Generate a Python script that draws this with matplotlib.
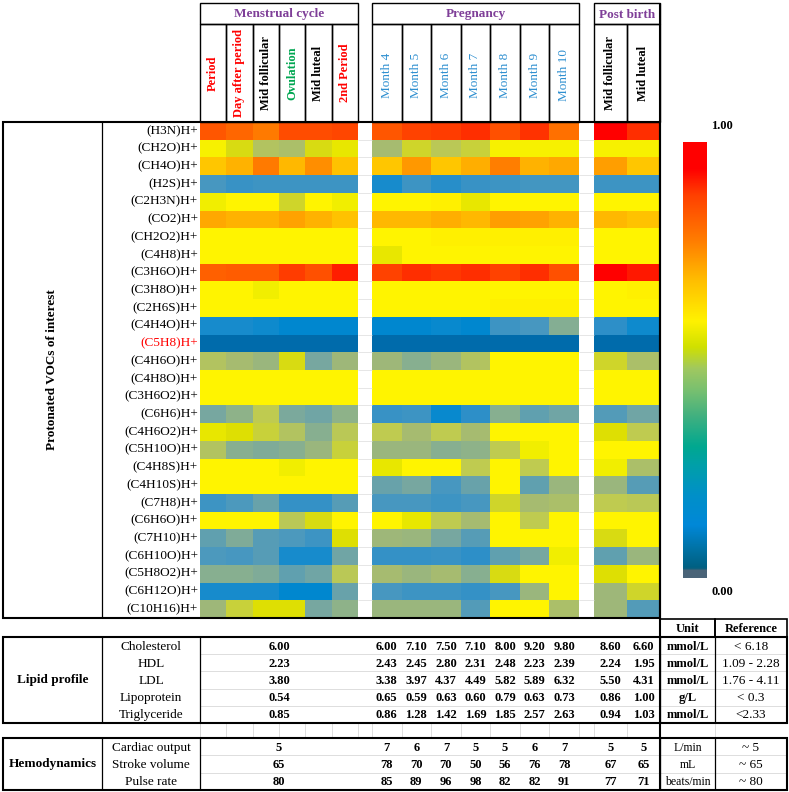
import numpy as np
import matplotlib
matplotlib.use('Agg')
import matplotlib.pyplot as plt
from matplotlib.colors import LinearSegmentedColormap
from matplotlib.patches import Rectangle

# --- Data ---
groups = ['Menstrual cycle', 'Pregnancy', 'Post birth']
menstrual_cols = ['Period', 'Day after period', 'Mid follicular', 'Ovulation', 'Mid luteal', '2nd Period']
menstrual_colors = ['#ff0000', '#ff0000', 'black', '#00a651', 'black', '#ff0000']
pregnancy_cols = ['Month 4', 'Month 5', 'Month 6', 'Month 7', 'Month 8', 'Month 9', 'Month 10']
post_cols = ['Mid follicular', 'Mid luteal']

compounds = ['(H3N)H+', '(CH2O)H+', '(CH4O)H+', '(H2S)H+', '(C2H3N)H+', '(CO2)H+',
             '(CH2O2)H+', '(C4H8)H+', '(C3H6O)H+', '(C3H8O)H+', '(C2H6S)H+', '(C4H4O)H+',
             '(C5H8)H+', '(C4H6O)H+', '(C4H8O)H+', '(C3H6O2)H+', '(C6H6)H+', '(C4H6O2)H+',
             '(C5H10O)H+', '(C4H8S)H+', '(C4H10S)H+', '(C7H8)H+', '(C6H6O)H+', '(C7H10)H+',
             '(C6H10O)H+', '(C5H8O2)H+', '(C6H12O)H+', '(C10H16)H+']

menstrual_vals = [
    [.83, .80, .76, .85, .85, .86],
    [.51, .47, .42, .41, .47, .49],
    [.61, .65, .76, .64, .72, .62],
    [.19, .16, .17, .17, .17, .17],
    [.50, .52, .52, .46, .52, .50],
    [.67, .65, .65, .68, .65, .62],
    [.52, .52, .52, .52, .52, .52],
    [.52, .52, .52, .52, .52, .52],
    [.81, .82, .82, .88, .84, .94],
    [.52, .52, .50, .52, .52, .52],
    [.52, .52, .52, .52, .52, .52],
    [.11, .11, .10, .08, .08, .08],
    [.01, .01, .01, .01, .01, .01],
    [.42, .40, .38, .47, .31, .39],
    [.52, .52, .52, .52, .52, .52],
    [.52, .52, .52, .52, .52, .52],
    [.31, .36, .44, .32, .29, .36],
    [.49, .48, .45, .42, .35, .43],
    [.42, .35, .33, .35, .38, .45],
    [.52, .52, .52, .50, .52, .52],
    [.52, .52, .52, .52, .52, .52],
    [.17, .20, .27, .15, .15, .23],
    [.52, .52, .52, .43, .47, .52],
    [.25, .33, .23, .20, .17, .48],
    [.20, .19, .23, .11, .11, .29],
    [.35, .35, .33, .25, .29, .43],
    [.11, .11, .11, .08, .08, .27],
    [.39, .45, .48, .48, .31, .36],
]

pregnancy_vals = [
    [.83, .87, .88, .91, .84, .90, .78],
    [.40, .46, .43, .45, .51, .51, .51],
    [.61, .70, .61, .66, .75, .65, .67],
    [.11, .17, .13, .16, .17, .18, .18],
    [.52, .52, .53, .49, .52, .52, .52],
    [.64, .64, .66, .64, .69, .68, .65],
    [.52, .52, .53, .53, .53, .53, .53],
    [.49, .52, .52, .52, .52, .52, .52],
    [.87, .91, .89, .91, .87, .91, .84],
    [.52, .52, .52, .52, .52, .52, .52],
    [.52, .52, .52, .52, .53, .53, .53],
    [.08, .08, .09, .08, .17, .19, .34],
    [.01, .01, .01, .01, .01, .01, .01],
    [.39, .35, .38, .42, .52, .52, .52],
    [.52, .52, .52, .52, .52, .52, .52],
    [.52, .52, .52, .52, .52, .52, .52],
    [.16, .17, .09, .14, .35, .25, .29],
    [.44, .40, .44, .40, .52, .52, .52],
    [.38, .38, .35, .36, .44, .50, .52],
    [.49, .52, .52, .44, .52, .44, .52],
    [.27, .31, .19, .27, .52, .25, .38],
    [.19, .19, .17, .19, .46, .40, .41],
    [.52, .49, .44, .40, .52, .44, .52],
    [.39, .38, .31, .23, .52, .52, .52],
    [.15, .15, .16, .14, .25, .31, .50],
    [.40, .38, .40, .35, .47, .52, .52],
    [.19, .17, .17, .15, .19, .38, .52],
    [.38, .38, .38, .22, .52, .52, .41],
]

post_vals = [
    [1.0, .91], [.51, .51], [.69, .61], [.17, .17], [.52, .52], [.64, .62],
    [.52, .52], [.52, .52], [1.0, .95], [.52, .53], [.52, .52], [.14, .10],
    [.01, .01], [.46, .41], [.52, .52], [.52, .52], [.22, .29], [.48, .44],
    [.52, .52], [.50, .41], [.38, .23], [.44, .43], [.52, .52], [.47, .52],
    [.25, .38], [.48, .52], [.39, .46], [.39, .22],
]

lipid_names = ['Cholesterol', 'HDL', 'LDL', 'Lipoprotein', 'Triglyceride']
lipid_menstrual = [6.00, 2.23, 3.80, 0.54, 0.85]
lipid_pregnancy = [
    [6.00, 7.10, 7.50, 7.10, 8.00, 9.20, 9.80],
    [2.43, 2.45, 2.80, 2.31, 2.48, 2.23, 2.39],
    [3.38, 3.97, 4.37, 4.49, 5.82, 5.89, 6.32],
    [0.65, 0.59, 0.63, 0.60, 0.79, 0.63, 0.73],
    [0.86, 1.28, 1.42, 1.69, 1.85, 2.57, 2.63],
]
lipid_post = [[8.60, 6.60], [2.24, 1.95], [5.50, 4.31], [0.86, 1.00], [0.94, 1.03]]
lipid_units = ['mmol/L', 'mmol/L', 'mmol/L', 'g/L', 'mmol/L']
lipid_refs = ['< 6.18', '1.09 - 2.28', '1.76 - 4.11', '< 0.3', '<2.33']

hemo_names = ['Cardiac output', 'Stroke volume', 'Pulse rate']
hemo_menstrual = [5, 65, 80]
hemo_pregnancy = [
    [7, 6, 7, 5, 5, 6, 7],
    [78, 70, 70, 50, 56, 76, 78],
    [85, 89, 96, 98, 82, 82, 91],
]
hemo_post = [[5, 5], [67, 65], [77, 71]]
hemo_units = ['L/min', 'mL', 'beats/min']
hemo_refs = ['~ 5', '~ 65', '~ 80']

# --- Colour maps ---
cell_cmap = LinearSegmentedColormap.from_list('cells', [
    (0.00, '#0068a8'), (0.08, '#0088d0'), (0.14, '#3090c8'), (0.19, '#4898c0'),
    (0.25, '#60a0b0'), (0.31, '#78a8a0'), (0.35, '#88b090'), (0.39, '#a0b878'),
    (0.44, '#c0cc50'), (0.48, '#e0e000'), (0.50, '#f0ee00'), (0.52, '#fff500'),
    (1.00, '#ff0000')])
bar_cmap = LinearSegmentedColormap.from_list('bar', [
    (0.00, '#4a6478'), (0.018, '#4a6478'), (0.02, '#005f80'), (0.06, '#0070a0'),
    (0.12, '#0088d8'), (0.19, '#0090c8'), (0.26, '#00a0a8'), (0.30, '#00a890'),
    (0.37, '#40b080'), (0.43, '#78c070'), (0.48, '#a0c860'), (0.53, '#d0e000'),
    (0.59, '#fff200'), (0.68, '#ffc000'), (0.77, '#ff8000'), (0.88, '#ff4000'),
    (0.94, '#ff0000'), (1.00, '#ff0000')])

# --- Layout (pixel coordinates, y downwards) ---
W, H = 789, 792
LEFT, DIV, HM_X0 = 3, 102, 200
spans = [(200, 358), (372, 579), (594, 660)]
HDR_TOP, HDR_MID, HM_TOP, HM_BOT = 3, 24, 122, 618
RIGHT_HM, UNIT_X, RIGHT = 660, 715, 787
nrow = len(compounds)
row_h = (HM_BOT - HM_TOP) / nrow

serif = ['Liberation Serif', 'DejaVu Serif']
fs = 9.5

fig = plt.figure(figsize=(W / 100, H / 100), dpi=100)
ax = fig.add_axes([0, 0, 1, 1])
ax.axis('off')


def box(x0, y0, x1, y1, lw=0.9, color='black'):
    ax.add_patch(Rectangle((x0, y0), x1 - x0, y1 - y0, fill=False, lw=lw, ec=color, zorder=5))


def line(x0, y0, x1, y1, lw=0.8, color='black', z=5):
    ax.plot([x0, x1], [y0, y1], color=color, lw=lw, zorder=z, solid_capstyle='butt')


def txt(x, y, s, **kw):
    kw.setdefault('fontsize', fs)
    ax.text(x, y, s, family=serif, ha=kw.pop('ha', 'center'), va=kw.pop('va', 'center'), **kw)


# --- Heatmap blocks ---
all_vals = [menstrual_vals, pregnancy_vals, post_vals]
all_cols = [menstrual_cols, pregnancy_cols, post_cols]
col_centers = []
for (x0, x1), vals, cols in zip(spans, all_vals, all_cols):
    ax.imshow(np.array(vals), cmap=cell_cmap, vmin=0, vmax=1, extent=(x0, x1, HM_BOT, HM_TOP),
              origin='upper', aspect='auto', interpolation='nearest', zorder=1)
    cw = (x1 - x0) / len(cols)
    col_centers.append([x0 + cw * (i + 0.5) for i in range(len(cols))])

# group headers + column headers
for gi, ((x0, x1), name, cols) in enumerate(zip(spans, groups, all_cols)):
    box(x0, HDR_TOP, x1, HDR_MID, lw=1.0)
    txt((x0 + x1) / 2, (HDR_TOP + HDR_MID) / 2 + 1, name, color='#7f3f98', fontweight='bold')
    cw = (x1 - x0) / len(cols)
    for i, c in enumerate(cols):
        box(x0 + i * cw, HDR_MID, x0 + (i + 1) * cw, HM_TOP, lw=1.0)
        if gi == 0:
            txt(x0 + (i + 0.5) * cw, 73, c, rotation=90, color=menstrual_colors[i],
                fontweight='bold', fontsize=9)
        elif gi == 1:
            txt(x0 + (i + 0.5) * cw, 75, c, rotation=90, color='#2e8fd0', fontsize=9.5)
        else:
            txt(x0 + (i + 0.5) * cw, 73, c, rotation=90, color='black',
                fontweight='bold', fontsize=9)

# faint grid in the white gap columns
for (g0, g1) in [(spans[0][1], spans[1][0]), (spans[1][1], spans[2][0])]:
    for r in range(1, nrow):
        y = HM_TOP + r * row_h
        line(g0, y, g1, y, lw=0.5, color='#dcdcdc', z=2)

# left label area and outer frame
box(LEFT, HM_TOP, RIGHT_HM, HM_BOT, lw=1.5)
line(DIV, HM_TOP, DIV, HM_BOT, lw=0.9)
line(RIGHT_HM, HDR_TOP, RIGHT_HM, HM_BOT, lw=1.5)
for r, c in enumerate(compounds):
    txt(HM_X0 - 2, HM_TOP + (r + 0.5) * row_h, c, ha='right',
        color='#ff0000' if c == '(C5H8)H+' else 'black')
txt((LEFT + DIV) / 2, (HM_TOP + HM_BOT) / 2, 'Protonated VOCs of interest', rotation=90,
    fontweight='bold')

# --- Colorbar ---
grad = np.linspace(1, 0, 256).reshape(-1, 1)
ax.imshow(grad, cmap=bar_cmap, vmin=0, vmax=1, extent=(683, 707, 578, 142),
          origin='upper', aspect='auto', zorder=1)
txt(722, 126, '1.00', fontweight='bold', fontsize=9)
txt(722, 592, '0.00', fontweight='bold', fontsize=9)

# --- Tables ---
UNIT_TOP, LIP_TOP, LIP_BOT, HEM_TOP, HEM_BOT = 619, 637, 723, 738, 790
box(RIGHT_HM, UNIT_TOP, UNIT_X, LIP_TOP, lw=1.2)
box(UNIT_X, UNIT_TOP, RIGHT, LIP_TOP, lw=1.2)
txt((RIGHT_HM + UNIT_X) / 2, (UNIT_TOP + LIP_TOP) / 2 + 1, 'Unit', fontweight='bold', fontsize=9)
txt((UNIT_X + RIGHT) / 2, (UNIT_TOP + LIP_TOP) / 2 + 1, 'Reference', fontweight='bold', fontsize=9)

all_grid_x = [HM_X0]
for (x0, x1), cols in zip(spans, all_cols):
    cw = (x1 - x0) / len(cols)
    all_grid_x += [x0 + i * cw for i in range(len(cols) + 1)]


def table(top, bot, title, names, mvals, pvals, qvals, units, refs, fmt, unit_bold):
    n = len(names)
    rh = (bot - top) / n
    for r in range(1, n):
        y = top + r * rh
        line(HM_X0, y, RIGHT, y, lw=0.5, color='#d0d0d0', z=2)
    box(LEFT, top, RIGHT, bot, lw=1.5)
    for x in [DIV, HM_X0, RIGHT_HM, UNIT_X]:
        line(x, top, x, bot, lw=0.9)
    txt((LEFT + DIV) / 2, (top + bot) / 2, title, fontweight='bold')
    for r in range(n):
        y = top + (r + 0.5) * rh + 1
        txt((DIV + HM_X0) / 2, y, names[r])
        txt((spans[0][0] + spans[0][1]) / 2, y, fmt.format(mvals[r]), fontweight='bold', fontsize=9)
        for x, v in zip(col_centers[1], pvals[r]):
            txt(x, y, fmt.format(v), fontweight='bold', fontsize=9)
        for x, v in zip(col_centers[2], qvals[r]):
            txt(x, y, fmt.format(v), fontweight='bold', fontsize=9)
        if unit_bold:
            txt((RIGHT_HM + UNIT_X) / 2, y, units[r], fontweight='bold', fontsize=9)
        else:
            txt((RIGHT_HM + UNIT_X) / 2, y, units[r], fontsize=8.5)
        txt((UNIT_X + RIGHT) / 2, y, refs[r], fontsize=9.5)


table(LIP_TOP, LIP_BOT, 'Lipid profile', lipid_names, lipid_menstrual, lipid_pregnancy,
      lipid_post, lipid_units, lipid_refs, '{:.2f}', True)
table(HEM_TOP, HEM_BOT, 'Hemodynamics', hemo_names, hemo_menstrual, hemo_pregnancy,
      hemo_post, hemo_units, hemo_refs, '{}', False)

# spacer row gridlines
for x in all_grid_x + [UNIT_X]:
    line(x, LIP_BOT, x, HEM_TOP, lw=0.5, color='#d0d0d0', z=2)
line(RIGHT_HM, HM_BOT, RIGHT_HM, HEM_BOT, lw=1.5)

ax.set_xlim(0, W)
ax.set_ylim(H, 0)
fig.savefig('out.png', dpi=100, facecolor='white')
